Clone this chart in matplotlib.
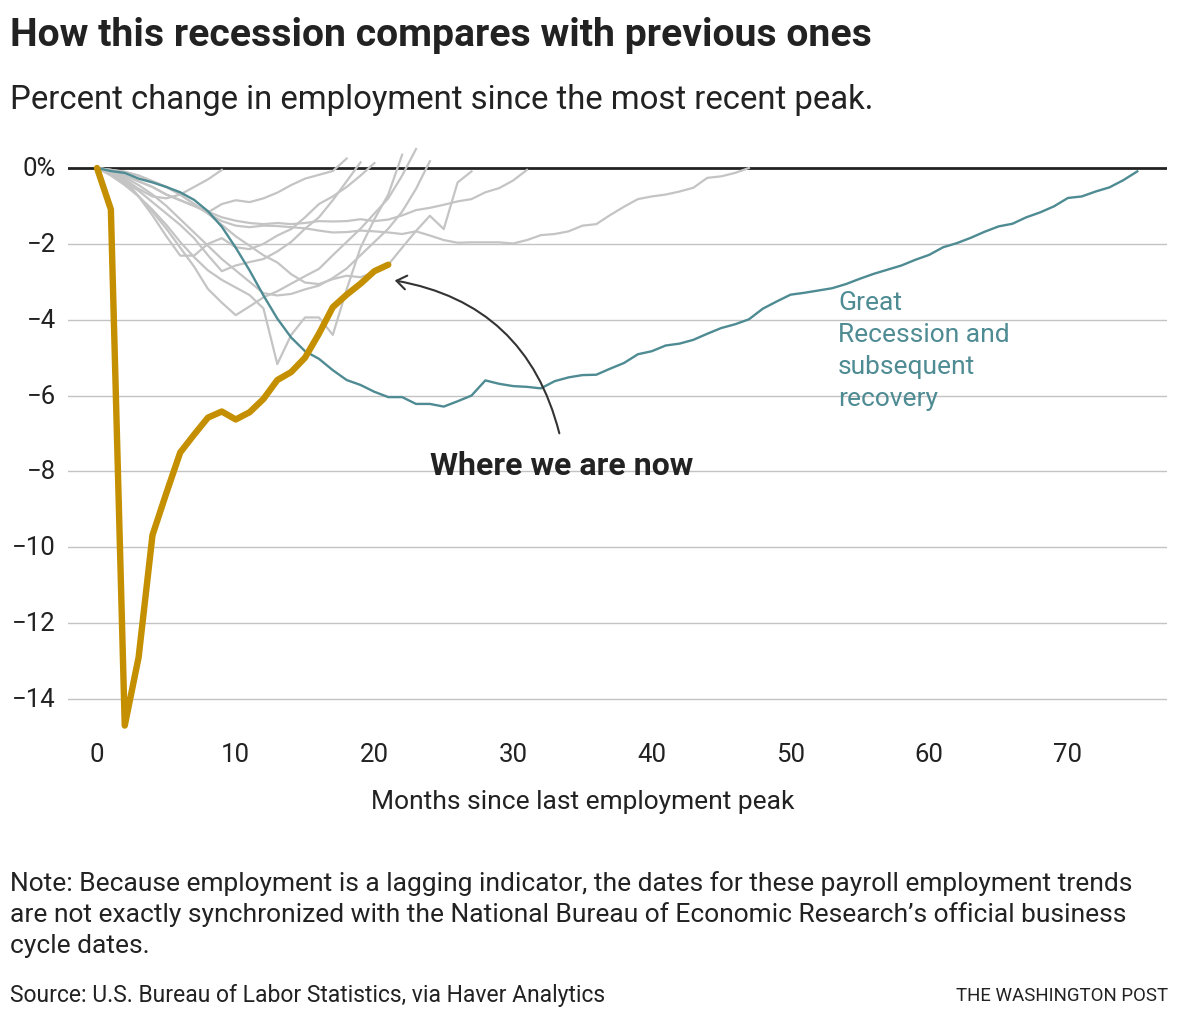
import matplotlib
matplotlib.use("Agg")
import matplotlib.pyplot as plt
from matplotlib.patches import FancyArrowPatch
from matplotlib import transforms

plt.rcParams['font.family'] = ['Roboto', 'DejaVu Sans']

# ---------------- data ----------------
x_ticks = [0, 10, 20, 30, 40, 50, 60, 70]
y_ticks = [0, -2, -4, -6, -8, -10, -12, -14]
y_tick_labels = ["0%", "\u22122", "\u22124", "\u22126", "\u22128", "\u221210", "\u221212", "\u221214"]

# Current (COVID) recession, months 0..21
current = [0, -1.09, -14.7, -12.9, -9.68, -8.57, -7.5, -7.03, -6.58, -6.42, -6.63,
           -6.44, -6.09, -5.59, -5.38, -5.0, -4.37, -3.67, -3.34, -3.05, -2.72, -2.55]

# Great Recession, months 0..75
great_recession = [0, -0.08, -0.13, -0.28, -0.38, -0.5, -0.64, -0.84, -1.14, -1.55, -2.1,
                   -2.7, -3.36, -3.97, -4.47, -4.83, -5.03, -5.33, -5.59, -5.72, -5.9,
                   -6.04, -6.04, -6.22, -6.22, -6.29, -6.15, -6.0, -5.6, -5.69, -5.75,
                   -5.77, -5.81, -5.62, -5.52, -5.46, -5.45, -5.29, -5.14, -4.91, -4.83,
                   -4.68, -4.63, -4.53, -4.37, -4.22, -4.12, -3.99, -3.71, -3.52, -3.34,
                   -3.29, -3.23, -3.17, -3.06, -2.92, -2.79, -2.68, -2.57, -2.42, -2.29,
                   -2.09, -1.98, -1.84, -1.68, -1.54, -1.47, -1.30, -1.17, -1.01, -0.79,
                   -0.75, -0.62, -0.51, -0.32, -0.09]

# Previous recessions (grey)
rec_1980 = [0, -0.1, -0.3, -0.55, -0.75, -0.8, -0.7, -0.5, -0.3, -0.05]
rec_1970 = [0, -0.05, -0.2, -0.35, -0.5, -0.7, -0.85, -1.0, -1.17, -0.95, -0.85, -0.9,
            -0.8, -0.65, -0.45, -0.28, -0.18, -0.08, 0.25]
rec_1990 = [0, -0.1, -0.2, -0.35, -0.5, -0.7, -0.85, -1.0, -1.15, -1.3, -1.39, -1.45,
            -1.48, -1.45, -1.48, -1.45, -1.4, -1.41, -1.40, -1.35, -1.40, -1.36, -1.25,
            -1.11, -1.05, -0.97, -0.88, -0.82, -0.64, -0.53, -0.33, -0.05]
rec_2001 = [0, -0.05, -0.1, -0.2, -0.35, -0.5, -0.7, -0.95, -1.2, -1.4, -1.52, -1.56,
            -1.52, -1.53, -1.56, -1.59, -1.65, -1.70, -1.69, -1.65, -1.67, -1.70, -1.74,
            -1.67, -1.78, -1.9, -1.97, -1.96, -1.96, -1.96, -1.99, -1.9, -1.77, -1.74,
            -1.67, -1.52, -1.48, -1.24, -1.02, -0.82, -0.75, -0.70, -0.62, -0.52, -0.26,
            -0.22, -0.13, 0]
rec_1960 = [0, -0.15, -0.35, -0.6, -0.9, -1.2, -1.5, -1.85, -2.3, -2.72, -2.57, -2.48,
            -2.4, -2.2, -1.95, -1.6, -1.3, -0.85, -0.35, 0.15]
rec_1974 = [0, -0.1, -0.3, -0.75, -1.25, -1.8, -2.31, -2.31, -2.0, -1.85, -2.09, -2.14,
            -2.0, -1.78, -1.61, -1.3, -0.95, -0.75, -0.5, -0.2, 0.13]
rec_1953 = [0, -0.1, -0.25, -0.45, -0.7, -1.0, -1.35, -1.7, -2.05, -2.4, -2.7, -3.0,
            -3.3, -3.36, -3.32, -3.2, -3.1, -2.9, -2.65, -2.3, -1.95, -1.6, -1.15, -0.55, 0.18]
rec_1957 = [0, -0.15, -0.4, -0.75, -1.15, -1.6, -2.1, -2.6, -3.19, -3.55, -3.88, -3.65,
            -3.41, -3.25, -3.05, -2.85, -2.66, -2.3, -1.95, -1.6, -1.2, -0.8, -0.2, 0.5]
rec_1948 = [0, -0.2, -0.45, -0.75, -1.1, -1.5, -1.95, -2.35, -2.7, -2.95, -3.15, -3.35,
            -3.7, -5.17, -4.4, -3.94, -3.94, -4.4, -3.2, -2.1, -1.35, -0.7, 0.35]
rec_1981 = [0, -0.05, -0.1, -0.2, -0.35, -0.5, -0.7, -0.95, -1.2, -1.5, -1.8, -2.05,
            -2.3, -2.49, -2.8, -3.02, -3.06, -2.93, -2.84, -2.88, -2.75, -2.55, -2.1,
            -1.66, -1.26, -1.61, -0.38, -0.09]

grey_series = [rec_1948, rec_1953, rec_1957, rec_1960, rec_1970, rec_1974,
               rec_1980, rec_1981, rec_1990, rec_2001]

# ---------------- styling ----------------
W, H = 1180, 1020
GREY = "#c4c4c4"
TEAL = "#4e8b93"
GOLD = "#c48f00"
DARK = "#222222"

fig = plt.figure(figsize=(W / 100, H / 100), dpi=100)

x0_px, px_per_month = 97, 13.87
y0_px, px_per_pct = 169, 37.93
ax_left_px, ax_right_px = 68, 1167
ax_top_px, ax_bot_px = 135, 745

ax = fig.add_axes([ax_left_px / W, 1 - ax_bot_px / H,
                   (ax_right_px - ax_left_px) / W, (ax_bot_px - ax_top_px) / H])
ax.set_xlim((ax_left_px - x0_px) / px_per_month, (ax_right_px - x0_px) / px_per_month)
ax.set_ylim(-(ax_bot_px - y0_px) / px_per_pct, (y0_px - ax_top_px) / px_per_pct)
for s in ax.spines.values():
    s.set_visible(False)
ax.set_xticks([])
ax.set_yticks([])

for y in y_ticks[1:]:
    ax.axhline(y, color="#c3c3c3", lw=1.0, zorder=1)
ax.axhline(0, color=DARK, lw=2.0, zorder=2)

for s in grey_series:
    ax.plot(range(len(s)), s, color=GREY, lw=1.6, zorder=3, solid_joinstyle="round")
ax.plot(range(len(great_recession)), great_recession, color=TEAL, lw=1.7, zorder=4,
        solid_joinstyle="round")
ax.plot(range(len(current)), current, color=GOLD, lw=4.6, zorder=5,
        solid_joinstyle="round", solid_capstyle="round")

# tick labels
ytr = transforms.blended_transform_factory(fig.transFigure, ax.transData)
for v, lab in zip(y_ticks, y_tick_labels):
    ax.text(56 / W, v, lab, transform=ytr, ha="right", va="center",
            fontsize=18.5, color="#222222")
xtr = transforms.blended_transform_factory(ax.transData, fig.transFigure)
for v in x_ticks:
    ax.text(v, 1 - 755 / H, str(v), transform=xtr, ha="center", va="center",
            fontsize=18.5, color="#222222")

# annotations
gx = (838 - x0_px) / px_per_month
for i, line in enumerate(["Great", "Recession and", "subsequent", "recovery"]):
    ax.text(gx, -(303 + 32 * i - y0_px) / px_per_pct, line,
            color=TEAL, fontsize=19, va="center", ha="left")

ax.text((430 - x0_px) / px_per_month, -(466 - y0_px) / px_per_pct, "Where we are now",
        color=DARK, fontsize=23, fontweight="bold", va="center", ha="left")

start = ((560 - x0_px) / px_per_month, -(437 - y0_px) / px_per_pct)
end = ((392 - x0_px) / px_per_month, -(281 - y0_px) / px_per_pct)
arrow = FancyArrowPatch(start, end, connectionstyle="arc3,rad=0.33",
                        arrowstyle="->,head_length=7,head_width=5",
                        color="#333333", lw=1.5, zorder=6)
ax.add_patch(arrow)

# figure texts
fig.text(10 / W, 1 - 35 / H, "How this recession compares with previous ones",
         fontsize=28.2, fontweight="bold", color="#222222", ha="left", va="center")
fig.text(10 / W, 1 - 100 / H, "Percent change in employment since the most recent peak.",
         fontsize=23.7, color="#222222", ha="left", va="center")
fig.text(583 / W, 1 - 802 / H, "Months since last employment peak",
         fontsize=19, color="#222222", ha="center", va="center")
note = ["Note: Because employment is a lagging indicator, the dates for these payroll employment trends",
        "are not exactly synchronized with the National Bureau of Economic Research\u2019s official business",
        "cycle dates."]
for i, line in enumerate(note):
    fig.text(10 / W, 1 - (884 + 31 * i) / H, line, fontsize=19, color="#222222",
             ha="left", va="center")
fig.text(10 / W, 1 - 996 / H, "Source: U.S. Bureau of Labor Statistics, via Haver Analytics",
         fontsize=16.5, color="#222222", ha="left", va="center")
fig.text(1168 / W, 1 - 996 / H, "THE WASHINGTON POST",
         fontsize=13.4, color="#222222", ha="right", va="center")

fig.savefig("out.png", dpi=100, facecolor="white")
